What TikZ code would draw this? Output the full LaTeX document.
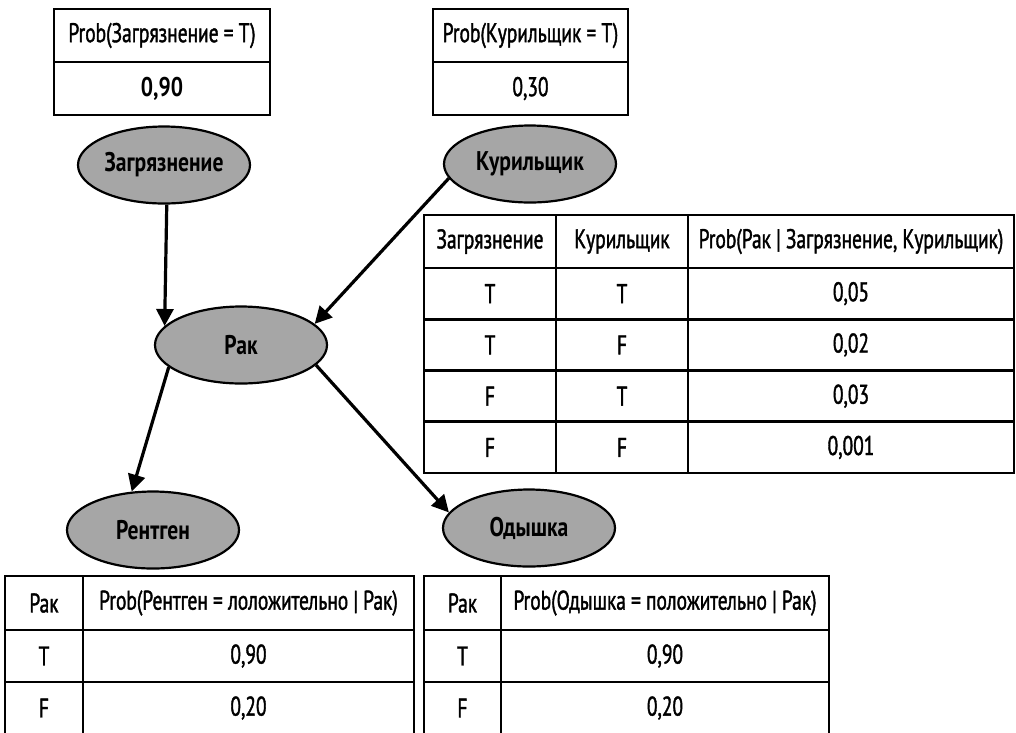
\documentclass[tikz,border=0pt]{standalone}
\usepackage{fontspec}
\setmainfont[UprightFeatures={FakeStretch=0.72, FakeBold=1.4},
  BoldFeatures={FakeStretch=0.8}]{PT Sans}
\usetikzlibrary{arrows.meta,shapes.geometric}

\begin{document}
\begin{tikzpicture}[x=1pt,y=-1pt,
  txt/.style={font=\fontsize{27}{31}\selectfont},
  cell/.style={txt, draw, line width=2.6pt, inner sep=0pt},
  var/.style={ellipse, draw, line width=2.2pt, fill=black!35, inner sep=0pt,
    minimum width=172pt, minimum height=77pt,
    font=\fontsize{27}{31}\selectfont\bfseries},
  link/.style={line width=3.2pt, -{Triangle[length=17pt,width=17pt]}}]
\useasboundingbox (0,0) rectangle (1016,732);

% prior tables of the two root variables
\node[cell, minimum width=216pt, minimum height=53pt] (pz-h) at (162,35.5) {Prob(Загрязнение = T)};
\node[cell, minimum width=216pt, minimum height=53pt] (pz-v) at (162,88.5) {\bfseries 0,90};
\node[cell, minimum width=195pt, minimum height=53pt] (pk-h) at (530.5,35.5) {Prob(Курильщик = T)};
\node[cell, minimum width=195pt, minimum height=53pt] (pk-v) at (530.5,88.5) {0,30};

% network variables
\node[var] (zag) at (164,165) {Загрязнение};
\node[var] (kur) at (530,164) {Курильщик};
\node[var] (rak) at (241,345) {Рак};
\node[var] (rent) at (153,530) {Рентген};
\node[var] (odysh) at (529,528) {Одышка};

% dependencies
\draw[link] (zag.-86) -- (rak.166);
\draw[link] (kur.190) -- (rak.16);
\draw[link] (rak.197) -- (rent.119);
\draw[link] (rak.345) -- (odysh.169);

% conditional table of Рак
\begin{scope}[every node/.append style={cell}]
\node[minimum width=132pt, minimum height=53pt] (c-h1) at (490,241.5) {Загрязнение};
\node[minimum width=132pt, minimum height=53pt] (c-h2) at (622,241.5) {Курильщик};
\node[minimum width=326pt, minimum height=53pt] (c-h3) at (851,241.5) {Prob(Рак | Загрязнение, Курильщик)};
\foreach \y/\a/\b/\p [count=\i] in {293.6/T/T/{0,05}, 344.9/T/F/{0,02}, 396.1/F/T/{0,03}, 447.4/F/F/{0,001}} {
  \node[minimum width=132pt, minimum height=51.3pt] (c-\i-1) at (490,\y) {\a};
  \node[minimum width=132pt, minimum height=51.3pt] (c-\i-2) at (622,\y) {\b};
  \node[minimum width=326pt, minimum height=51.3pt] (c-\i-3) at (851,\y) {\p};
}

% conditional table of Рентген
\node[minimum width=78pt, minimum height=54pt] (r-h1) at (44,603) {Рак};
\node[minimum width=331pt, minimum height=54pt] (r-h2) at (248.5,603) {Prob(Рентген = лоложительно | Рак)};
\node[minimum width=78pt, minimum height=52pt] (r-1-1) at (44,656) {T};
\node[minimum width=331pt, minimum height=52pt] (r-1-2) at (248.5,656) {0,90};
\node[minimum width=78pt, minimum height=52pt] (r-2-1) at (44,708) {F};
\node[minimum width=331pt, minimum height=52pt] (r-2-2) at (248.5,708) {0,20};

% conditional table of Одышка
\node[minimum width=77pt, minimum height=54pt] (o-h1) at (462.5,603) {Рак};
\node[minimum width=328pt, minimum height=54pt] (o-h2) at (665,603) {Prob(Одышка = положительно | Рак)};
\node[minimum width=77pt, minimum height=52pt] (o-1-1) at (462.5,656) {T};
\node[minimum width=328pt, minimum height=52pt] (o-1-2) at (665,656) {0,90};
\node[minimum width=77pt, minimum height=52pt] (o-2-1) at (462.5,708) {F};
\node[minimum width=328pt, minimum height=52pt] (o-2-2) at (665,708) {0,20};
\end{scope}
\end{tikzpicture}
\end{document}
